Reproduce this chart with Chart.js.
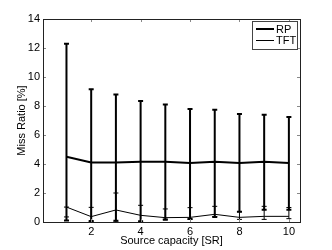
<!DOCTYPE html>
<html>
<head>
<meta charset="utf-8">
<script src="https://cdn.jsdelivr.net/npm/chart.js@4/dist/chart.umd.min.js"></script>
<style>
	html, body { margin: 0; padding: 0; background: #fff; }
	#wrap { width: 332px; height: 250px; }
</style>
</head>
<body>
<div id="wrap"><canvas id="plot"></canvas></div>
<script>
const capacity = [1, 2, 3, 4, 5, 6, 7, 8, 9, 10];
const rpMean = [4.5, 4.11, 4.11, 4.16, 4.16, 4.07, 4.16, 4.07, 4.16, 4.07];
const rpLow = [0.1, 0.07, 0.08, 0.05, 0.15, 0.2, 0.35, 0.7, 0.85, 0.85];
const rpHigh = [12.3, 9.15, 8.8, 8.35, 8.1, 7.8, 7.75, 7.45, 7.4, 7.25];
const tftMean = [1.03, 0.37, 0.83, 0.46, 0.3, 0.32, 0.53, 0.32, 0.39, 0.39];
const tftLow = [0.35, 0, 0, 0, 0.2, 0.19, 0.37, 0.18, 0.18, 0.23];
const tftHigh = [1.03, 1.01, 2.0, 1.15, 0.9, 0.99, 1.08, 0.71, 1.08, 1.0];
const xTicks = [2, 4, 6, 8, 10];
const yTicks = [0, 2, 4, 6, 8, 10, 12, 14];

const font = 'Liberation Sans, Arial, sans-serif';

// error bars, inward ticks, box and legend drawn with the chart's scales
const matlabStyle = {
	id: 'matlabStyle',
	afterDatasetsDraw(chart) {
		const ctx = chart.ctx;
		const xs = chart.scales.x, ys = chart.scales.y;
		const area = chart.chartArea;
		ctx.save();
		ctx.beginPath();
		ctx.rect(area.left, area.top, area.right - area.left, area.bottom - area.top);
		ctx.clip();
		chart.data.datasets.forEach(ds => {
			ctx.strokeStyle = '#000';
			ctx.lineWidth = ds.barWidth;
			ds.low.forEach((lo, i) => {
				const px = xs.getPixelForValue(capacity[i]);
				const p1 = ys.getPixelForValue(lo);
				const p2 = ys.getPixelForValue(ds.high[i]);
				ctx.beginPath();
				ctx.moveTo(px, p1);
				ctx.lineTo(px, p2);
				ctx.moveTo(px - 2.5, p1);
				ctx.lineTo(px + 2.5, p1);
				ctx.moveTo(px - 2.5, p2);
				ctx.lineTo(px + 2.5, p2);
				ctx.stroke();
			});
		});
		ctx.restore();

		ctx.save();
		ctx.strokeStyle = '#888';
		ctx.lineWidth = 1;
		ctx.beginPath();
		xTicks.forEach(v => {
			const px = Math.round(xs.getPixelForValue(v)) + 0.5;
			ctx.moveTo(px, area.bottom);
			ctx.lineTo(px, area.bottom - 3);
			ctx.moveTo(px, area.top);
			ctx.lineTo(px, area.top + 3);
		});
		yTicks.forEach(v => {
			const py = Math.round(ys.getPixelForValue(v)) + 0.5;
			ctx.moveTo(area.left, py);
			ctx.lineTo(area.left + 3, py);
			ctx.moveTo(area.right, py);
			ctx.lineTo(area.right - 3, py);
		});
		ctx.stroke();
		ctx.strokeStyle = '#222';
		ctx.strokeRect(Math.round(area.left) + 0.5, Math.round(area.top) + 0.5,
			Math.round(area.right - area.left), Math.round(area.bottom - area.top));

		// legend box
		const bx = 252.5, by = 21.5, bw = 45, bh = 28;
		ctx.fillStyle = '#fff';
		ctx.fillRect(bx, by, bw, bh);
		ctx.strokeStyle = '#444';
		ctx.strokeRect(bx, by, bw, bh);
		ctx.font = '11px ' + font;
		ctx.textBaseline = 'middle';
		ctx.fillStyle = '#000';
		chart.data.datasets.forEach((ds, i) => {
			const ly = 29 + i * 11.5;
			ctx.strokeStyle = '#000';
			ctx.lineWidth = ds.borderWidth;
			ctx.beginPath();
			ctx.moveTo(256, ly);
			ctx.lineTo(274, ly);
			ctx.stroke();
			ctx.fillText(ds.label, 276, ly + 0.5);
		});
		ctx.restore();
	}
};

new Chart(document.getElementById('plot').getContext('2d'), {
	type: 'line',
	data: {
		datasets: [{
			label: 'RP',
			data: capacity.map((c, i) => ({x: c, y: rpMean[i]})),
			low: rpLow,
			high: rpHigh,
			barWidth: 2,
			borderColor: '#000',
			borderWidth: 2,
			pointRadius: 0,
			fill: false,
			tension: 0
		}, {
			label: 'TFT',
			data: capacity.map((c, i) => ({x: c, y: tftMean[i]})),
			low: tftLow,
			high: tftHigh,
			barWidth: 1,
			borderColor: '#000',
			borderWidth: 1,
			pointRadius: 0,
			fill: false,
			tension: 0
		}]
	},
	options: {
		responsive: true,
		maintainAspectRatio: false,
		animation: false,
		layout: {
			padding: {
				left: 0,
				right: 32,
				top: 19,
				bottom: 0
			}
		},
		plugins: {
			legend: { display: false },
			tooltip: { enabled: false }
		},
		scales: {
			x: {
				type: 'linear',
				min: 0.05,
				max: 10.45,
				afterBuildTicks: s => { s.ticks = xTicks.map(v => ({value: v})); },
				afterFit: s => { s.height = 28; },
				title: {
					display: true,
					text: 'Source capacity [SR]',
					color: '#000',
					padding: {top: 2, bottom: 2},
					font: { family: font, size: 11 }
				},
				grid: { display: false, drawTicks: false },
				border: { display: false },
				ticks: {
					color: '#000',
					padding: 3,
					maxRotation: 0,
					font: { family: font, size: 11 }
				}
			},
			y: {
				type: 'linear',
				min: 0,
				max: 14,
				afterBuildTicks: s => { s.ticks = yTicks.map(v => ({value: v})); },
				afterFit: s => { s.width = 43; },
				title: {
					display: true,
					text: 'Miss Ratio [%]',
					color: '#000',
					padding: 15,
					font: { family: font, size: 11 }
				},
				grid: { display: false, drawTicks: false },
				border: { display: false },
				ticks: {
					color: '#000',
					padding: 3,
					font: { family: font, size: 11 }
				}
			}
		}
	},
	plugins: [matlabStyle]
});
</script>
</body>
</html>
